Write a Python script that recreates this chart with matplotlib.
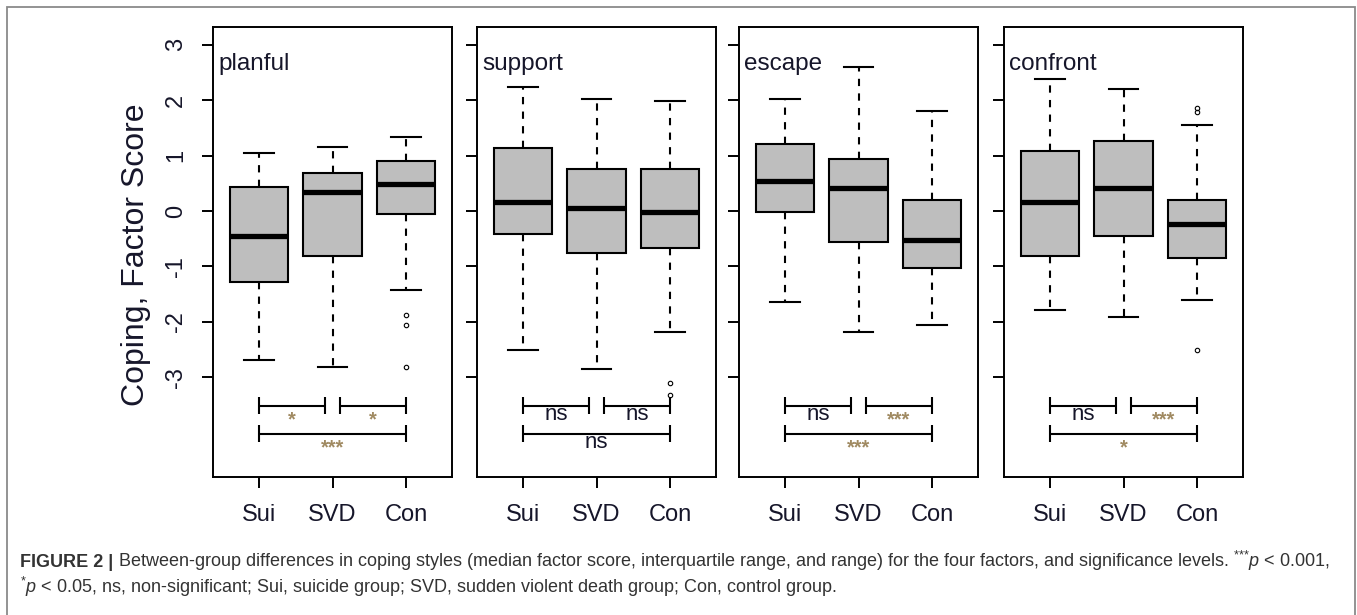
import matplotlib
matplotlib.use('Agg')
import matplotlib.pyplot as plt
from matplotlib.patches import Rectangle

plt.rcParams['font.family'] = ['Liberation Sans', 'DejaVu Sans']
plt.rcParams['axes.unicode_minus'] = False
plt.rcParams['mathtext.fontset'] = 'custom'
plt.rcParams['mathtext.rm'] = 'Liberation Sans'
plt.rcParams['mathtext.it'] = 'Liberation Sans:italic'

# ---------------- data ----------------
groups = ['Sui', 'SVD', 'Con']
factors = ['planful', 'support', 'escape', 'confront']
yticks = [-3, -2, -1, 0, 1, 2, 3]

planful_whislo = [-2.68, -2.82, -1.43]
planful_q1 = [-1.29, -0.82, -0.05]
planful_med = [-0.45, 0.34, 0.48]
planful_q3 = [0.44, 0.69, 0.91]
planful_whishi = [1.05, 1.16, 1.34]
planful_fliers = [[], [], [-1.87, -2.06, -2.82]]

support_whislo = [-2.50, -2.86, -2.18]
support_q1 = [-0.42, -0.75, -0.67]
support_med = [0.16, 0.05, -0.02]
support_q3 = [1.13, 0.76, 0.76]
support_whishi = [2.23, 2.02, 1.99]
support_fliers = [[], [], [-3.11, -3.32]]

escape_whislo = [-1.64, -2.18, -2.06]
escape_q1 = [-0.02, -0.56, -1.03]
escape_med = [0.55, 0.41, -0.52]
escape_q3 = [1.20, 0.94, 0.19]
escape_whishi = [2.02, 2.60, 1.81]
escape_fliers = [[], [], []]

confront_whislo = [-1.79, -1.92, -1.61]
confront_q1 = [-0.82, -0.46, -0.85]
confront_med = [0.16, 0.41, -0.23]
confront_q3 = [1.09, 1.27, 0.19]
confront_whishi = [2.38, 2.20, 1.55]
confront_fliers = [[], [], [1.78, 1.85, -2.51]]

# significance labels: Sui-SVD, SVD-Con, Sui-Con
planful_sig = ['*', '*', '***']
support_sig = ['ns', 'ns', 'ns']
escape_sig = ['ns', '***', '***']
confront_sig = ['ns', '***', '*']

panel_data = {
    'planful': (planful_whislo, planful_q1, planful_med, planful_q3, planful_whishi, planful_fliers, planful_sig),
    'support': (support_whislo, support_q1, support_med, support_q3, support_whishi, support_fliers, support_sig),
    'escape': (escape_whislo, escape_q1, escape_med, escape_q3, escape_whishi, escape_fliers, escape_sig),
    'confront': (confront_whislo, confront_q1, confront_med, confront_q3, confront_whishi, confront_fliers, confront_sig),
}

caption_bold = 'FIGURE 2 |'
caption_line1 = (' Between-group differences in coping styles (median factor score, interquartile range, '
                 'and range) for the four factors, and significance levels. $^{\\text{***}}\\mathit{p}$ < 0.001,')
caption_line2 = '$^{\\text{*}}\\mathit{p}$ < 0.05, ns, non-significant; Sui, suicide group; SVD, sudden violent death group; Con, control group.'

# ---------------- layout ----------------
W, H = 1357, 615
fig = plt.figure(figsize=(W / 100, H / 100), dpi=100)
fig.patch.set_facecolor('white')

TXT = '#16162a'
STAR = '#a08a62'
panel_left = [213, 477, 739, 1004]
panel_w = 239
panel_top, panel_bot = 27, 477
positions = [1, 2, 3]
upper_level, lower_level = -3.51, -4.02
tick_h = 0.15
gap = 0.10

for i, name in enumerate(factors):
    whislo, q1, med, q3, whishi, fliers, sig = panel_data[name]
    ax = fig.add_axes([panel_left[i] / W, 1 - panel_bot / H, panel_w / W, (panel_bot - panel_top) / H])
    stats = []
    for j in range(3):
        stats.append(dict(med=med[j], q1=q1[j], q3=q3[j], whislo=whislo[j], whishi=whishi[j], fliers=fliers[j]))
    ax.bxp(stats, positions=positions, widths=0.8, capwidths=0.4, patch_artist=True,
           boxprops=dict(facecolor='#bebebe', edgecolor='black', linewidth=1.5),
           medianprops=dict(color='black', linewidth=3.8, solid_capstyle='butt'),
           whiskerprops=dict(color='black', linestyle=(0, (3.5, 3.5)), linewidth=1.5),
           capprops=dict(color='black', linewidth=1.5),
           flierprops=dict(marker='o', markersize=3.2, markerfacecolor='none',
                           markeredgecolor='black', markeredgewidth=0.8),
           manage_ticks=False)

    # significance brackets
    pairs = [(positions[0], positions[1] - gap), (positions[1] + gap, positions[2]), (positions[0], positions[2])]
    levels = [upper_level, upper_level, lower_level]
    for (x0, x1), lvl, lab in zip(pairs, levels, sig):
        ax.plot([x0, x1], [lvl, lvl], color='black', lw=1.5, solid_capstyle='butt')
        ax.plot([x0, x0], [lvl - tick_h, lvl + tick_h], color='black', lw=1.5, solid_capstyle='butt')
        ax.plot([x1, x1], [lvl - tick_h, lvl + tick_h], color='black', lw=1.5, solid_capstyle='butt')
        if lab == 'ns':
            ax.annotate(lab, xy=((x0 + x1) / 2, lvl), xytext=(0, -10.5), textcoords='offset points',
                        ha='center', va='baseline', fontsize=16, color=TXT)
        else:
            ax.annotate(lab, xy=((x0 + x1) / 2, lvl), xytext=(0, -14.0), textcoords='offset points',
                        ha='center', va='baseline', fontsize=14.5, color=STAR, fontweight='bold')

    ax.set_xlim(0.375, 3.625)
    ax.set_ylim(-4.80, 3.32)
    ax.set_xticks(positions)
    ax.set_xticklabels(groups)
    ax.set_yticks(yticks)
    if i == 0:
        ax.set_yticklabels([str(t) for t in yticks], rotation=90, va='center', ha='right')
    else:
        ax.set_yticklabels([])
    ax.tick_params(axis='both', direction='out', length=7.8, width=1.4, color='black',
                   labelsize=17, labelcolor=TXT)
    ax.tick_params(axis='y', pad=11)
    ax.tick_params(axis='x', pad=11.5)
    for sp in ax.spines.values():
        sp.set_linewidth(1.4)
        sp.set_color('black')
    ax.text(0.021, 0.904, name, transform=ax.transAxes, ha='left', va='baseline',
            fontsize=17.5, color=TXT)

fig.text(136 / W, 1 - 255 / H, 'Coping, Factor Score', rotation=90, ha='center', va='center',
         fontsize=23, color=TXT)

# outer frame
fig.add_artist(Rectangle((7 / W, -0.05), (1355 - 7) / W, 1.05 - 7 / H, transform=fig.transFigure,
                         fill=False, edgecolor='#8a8a8a', linewidth=1.3))

# caption
cap_col = '#333333'
cap_size = 13.0
t1 = fig.text(20 / W, 1 - 567 / H, caption_bold, ha='left', va='baseline', fontsize=cap_size,
              fontweight='bold', color=cap_col)
fig.canvas.draw()
bb = t1.get_window_extent()
fig.text(bb.x1 / W, 1 - 567 / H, caption_line1, fontsize=cap_size, color=cap_col, ha='left', va='baseline')
fig.text(20 / W, 1 - 593 / H, caption_line2, fontsize=cap_size, color=cap_col, ha='left', va='baseline')

fig.savefig('out.png', dpi=100, facecolor='white')
plt.close('all')
